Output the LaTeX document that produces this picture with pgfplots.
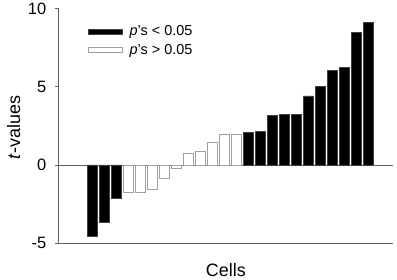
\documentclass[border=0pt]{standalone}
\usepackage{fontspec}
\setmainfont{Liberation Sans}
\usepackage{pgfplots}
\pgfplotsset{compat=1.18}
\definecolor{axisgray}{HTML}{606060}
\definecolor{edgegray}{HTML}{A0A0A0}
\definecolor{darkedge}{HTML}{404040}
\pgfplotsset{flatlegend/.style={legend image code/.code={\draw[##1] (0bp,-2.7bp) rectangle (34bp,2.7bp); \path[draw=none,fill=none] (34bp,0bp) -- (39bp,0bp);}}}
\pgfplotstableread{
x y
1 -4.53
2 -3.64
3 -2.15
14 2.06
15 2.15
16 3.19
17 3.24
18 3.24
19 4.41
20 5.00
21 6.05
22 6.24
23 8.47
24 9.11
}\sigtab
\pgfplotstableread{
x y
4 -1.74
5 -1.74
6 -1.55
7 -0.85
8 -0.24
9 0.75
10 0.88
11 1.45
12 1.92
13 1.96
}\nstab
\begin{document}
\begin{tikzpicture}
\begin{axis}[
  at={(58.3bp,36.7bp)}, anchor=south west,
  scale only axis, width=335bp, height=234.9bp,
  xmin=-1.83, xmax=26.08, ymin=-5, ymax=10,
  axis lines*=left,
  axis line style={axisgray, line width=0.8bp},
  xtick=\empty,
  ytick={-5,0,5,10}, yticklabels={-5,0,5,10},
  tick align=outside, major tick length=3.5bp,
  tick style={axisgray, line width=0.8bp},
  yticklabel style={font=\fontsize{16.5}{19}\selectfont, xshift=-5bp},
  xlabel={Cells}, ylabel={\textit{t}-values},
  label style={font=\fontsize{18}{21}\selectfont},
  xlabel style={at={(axis description cs:0.5,-0.142)}, anchor=base},
  ylabel style={at={(axis description cs:-0.114,0.493)}, anchor=base},
  extra y ticks={0}, extra y tick labels={},
  extra y tick style={grid=major, major grid style={axisgray, line width=0.8bp}, major tick length=0pt},
  ybar, bar width=0.83,
  legend style={draw=none, fill=none, at={(axis description cs:0.0887,0.935)}, anchor=north west,
    inner sep=0pt, font=\fontsize{14.5}{17.5}\selectfont, row sep=2.5bp},
  legend cell align=left,
  clip=false,
]
\addplot[fill=black, draw=darkedge, line width=0.6bp, bar shift=0pt, flatlegend] table[x=x,y=y] {\sigtab};
\addlegendentry{\textit{p}'s < 0.05}
\addplot[fill=white, draw=edgegray, line width=0.9bp, bar shift=0pt, flatlegend] table[x=x,y=y] {\nstab};
\addlegendentry{\textit{p}'s > 0.05}
\end{axis}
\pgfresetboundingbox
\path (0,0) rectangle (397bp,280bp);
\end{tikzpicture}
\end{document}
